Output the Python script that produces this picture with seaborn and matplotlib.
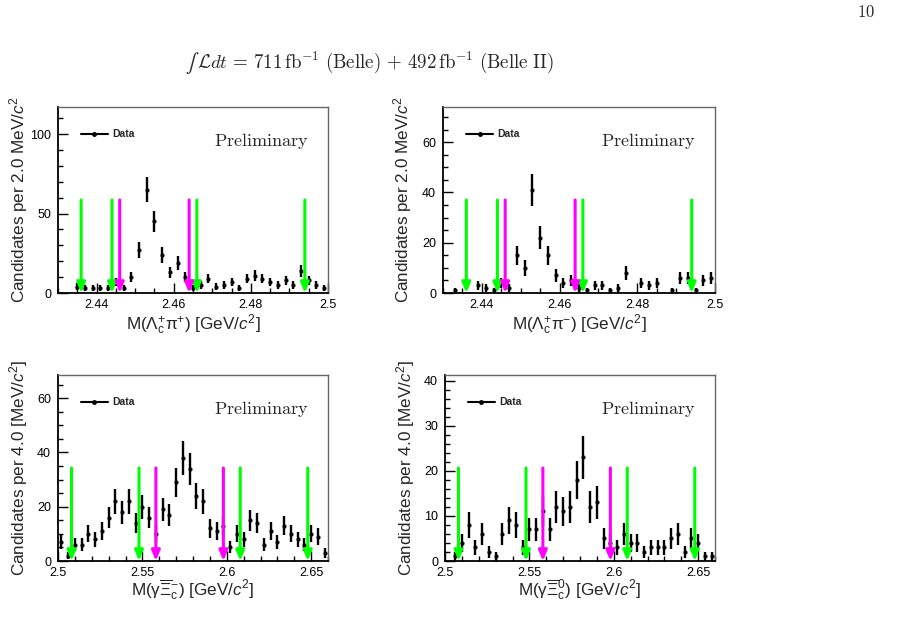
import numpy as np
import matplotlib
matplotlib.use("Agg")
import matplotlib.pyplot as plt
import seaborn as sns
from matplotlib.lines import Line2D
from matplotlib.ticker import MultipleLocator, FormatStrFormatter

# bin contents (empty bins are not drawn)
lcpip_counts = [0, 0, 4, 3, 3, 3, 3, 7, 3, 10, 27, 65, 45, 24, 13, 19, 10, 3,
                5, 9, 4, 5, 7, 3, 9, 11, 9, 7, 5, 8, 5, 14, 8, 5, 3]
lcpim_counts = [0, 1, 0, 0, 3, 2, 1, 4, 2, 15, 10, 41, 22, 15, 7, 4, 5, 2,
                1, 3, 3, 1, 2, 8, 0, 4, 3, 4, 0, 1, 6, 6, 1, 5, 6]
xicm_counts = [7, 2, 6, 6, 10, 8, 11, 16, 22, 18, 22, 14, 20, 16, 10, 19, 17, 29,
               38, 34, 24, 22, 12, 11, 13, 5, 10, 8, 15, 14, 6, 11, 7, 13, 10,
               8, 6, 10, 9, 3]
xic0_counts = [0, 1, 4, 8, 3, 6, 2, 1, 6, 9, 8, 3, 7, 7, 11, 7, 12, 11, 12, 18,
               23, 12, 13, 5, 4, 3, 6, 4, 4, 2, 3, 3, 3, 5, 6, 2, 5, 4, 1, 1]

# bin centres: 2 MeV bins on [2.43, 2.50], 4 MeV bins on [2.50, 2.66]
lc_centres = np.linspace(2.431, 2.499, 35)
xic_centres = np.linspace(2.502, 2.658, 40)

# signal / sideband boundaries (arrows)
lc_green = [2.436, 2.444, 2.466, 2.494]
lc_magenta = [2.446, 2.464]
xic_green = [2.508, 2.548, 2.608, 2.648]
xic_magenta = [2.558, 2.598]

panels = [
    dict(x=lc_centres, y=lcpip_counts, green=lc_green, magenta=lc_magenta,
         xlim=(2.43, 2.5), ylim=117, xmaj=0.02, xmin=0.005, ymaj=50, ymin=10,
         xlabel=r"M($\mathrm{\Lambda}_{\mathrm{c}}^{+}\mathrm{\pi}^{+}$) [GeV/$c^{2}$]",
         ylabel=r"Candidates per 2.0 MeV/$c^{2}$",
         pos=[58, 107, 270, 186], xlab_y=-0.105),
    dict(x=lc_centres, y=lcpim_counts, green=lc_green, magenta=lc_magenta,
         xlim=(2.43, 2.5), ylim=74, xmaj=0.02, xmin=0.005, ymaj=20, ymin=5,
         xlabel=r"M($\mathrm{\Lambda}_{\mathrm{c}}^{+}\mathrm{\pi}^{-}$) [GeV/$c^{2}$]",
         ylabel=r"Candidates per 2.0 MeV/$c^{2}$",
         pos=[443, 107, 272, 186], xlab_y=-0.105),
    dict(x=xic_centres, y=xicm_counts, green=xic_green, magenta=xic_magenta,
         xlim=(2.5, 2.66), ylim=68.5, xmaj=0.05, xmin=0.01, ymaj=20, ymin=5,
         xlabel=r"M($\mathrm{\gamma}\overline{\mathrm{\Xi}}_{\mathrm{c}}^{-}$) [GeV/$c^{2}$]",
         ylabel=r"Candidates per 4.0 [MeV/$c^{2}$]",
         pos=[58, 375, 270, 186], xlab_y=-0.09),
    dict(x=xic_centres, y=xic0_counts, green=xic_green, magenta=xic_magenta,
         xlim=(2.5, 2.66), ylim=41.3, xmaj=0.05, xmin=0.01, ymaj=10, ymin=2,
         xlabel=r"M($\mathrm{\gamma}\overline{\mathrm{\Xi}}_{\mathrm{c}}^{0}$) [GeV/$c^{2}$]",
         ylabel=r"Candidates per 4.0 [MeV/$c^{2}$]",
         pos=[445, 375, 270, 186], xlab_y=-0.09),
]

sns.set_theme(style="ticks")
plt.rcParams["font.family"] = ["Liberation Sans", "DejaVu Sans"]
plt.rcParams["mathtext.fontset"] = "custom"
plt.rcParams["mathtext.rm"] = "Liberation Sans"
plt.rcParams["mathtext.it"] = "Liberation Sans:italic"
plt.rcParams["mathtext.bf"] = "Liberation Sans:bold"

W, H = 901, 642
fig = plt.figure(figsize=(W / 100, H / 100), dpi=100)

for p in panels:
    l, t, w, h = p["pos"]
    ax = fig.add_axes([l / W, 1 - (t + h) / H, w / W, h / H])
    x = np.asarray(p["x"])
    y = np.asarray(p["y"], dtype=float)
    keep = y > 0
    ax.errorbar(x[keep], y[keep], yerr=np.sqrt(y[keep]), fmt="none",
                ecolor="black", elinewidth=1.7, capsize=0, zorder=3)
    sns.scatterplot(x=x[keep], y=y[keep], color="black", s=9, linewidth=0,
                    ax=ax, zorder=4)

    ytop = p["ylim"]
    for xs, col in [(p["green"], "#00ff00"), (p["magenta"], "#ff00ff")]:
        for xv in xs:
            ax.annotate("", xy=(xv, 0), xytext=(xv, 0.5 * ytop),
                        arrowprops=dict(arrowstyle="-|>,head_length=0.6,head_width=0.25",
                                        color=col, lw=2.2, shrinkA=0, shrinkB=0,
                                        mutation_scale=10), zorder=5)

    ax.set_xlim(*p["xlim"])
    ax.set_ylim(0, ytop)
    ax.xaxis.set_major_locator(MultipleLocator(p["xmaj"]))
    ax.xaxis.set_minor_locator(MultipleLocator(p["xmin"]))
    ax.yaxis.set_major_locator(MultipleLocator(p["ymaj"]))
    ax.yaxis.set_minor_locator(MultipleLocator(p["ymin"]))
    ax.xaxis.set_major_formatter(FormatStrFormatter("%g"))
    ax.yaxis.set_major_formatter(FormatStrFormatter("%g"))
    ax.tick_params(which="both", direction="in", top=False, right=False,
                   labelsize=9, colors="black")
    ax.tick_params(axis="x", pad=4)
    ax.tick_params(axis="y", pad=5)
    ax.tick_params(which="major", length=7, width=1)
    ax.tick_params(which="minor", length=3.5, width=1)
    for side in ["left", "bottom"]:
        ax.spines[side].set_color("black")
        ax.spines[side].set_linewidth(1.3)
    for side in ["top", "right"]:
        ax.spines[side].set_color("#666666")
        ax.spines[side].set_linewidth(1.0)

    ax.set_xlabel(p["xlabel"], fontsize=12.3)
    ax.set_ylabel(p["ylabel"], fontsize=12.3)
    ax.xaxis.set_label_coords(0.5, p["xlab_y"])
    ax.yaxis.set_label_coords(-0.105, 0.5)

    handle = Line2D([], [], color="black", marker="o", markersize=2.5, lw=1.5)
    ax.legend([handle], ["Data"], loc="upper left", bbox_to_anchor=(0.05, 0.93),
              frameon=False, handlelength=2.6, handletextpad=0.4,
              prop=dict(weight="bold", size=7.5))
    ax.text(0.755, 0.815, r"$\mathrm{Preliminary}$", transform=ax.transAxes,
            ha="center", va="center", fontsize=13, math_fontfamily="cm")

# luminosity line: small integral sign + Computer Modern text
fig.text(194 / W, 1 - 63 / H, "\u222b", ha="right", va="center",
         fontsize=14, family="STIXGeneral")
fig.text(197 / W, 1 - 62 / H,
         r"$\mathcal{L}dt\,=\,711\,\mathrm{fb}^{-1}\ \mathrm{(Belle)}\,+\,492\,\mathrm{fb}^{-1}\ \mathrm{(Belle\ II)}$",
         ha="left", va="center", fontsize=13.6, math_fontfamily="cm")
fig.text(866 / W, 1 - 12 / H, r"$\mathrm{10}$", ha="center", va="center",
         fontsize=12, math_fontfamily="cm")

fig.savefig("out.png", dpi=100)
